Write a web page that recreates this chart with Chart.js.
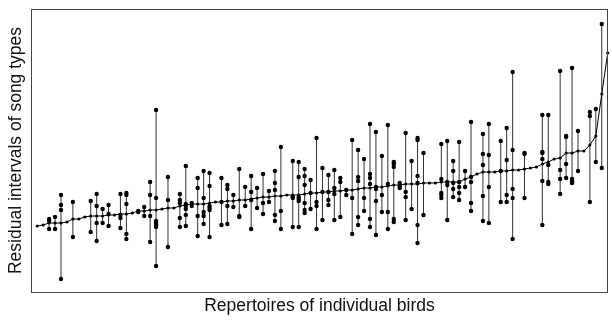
<!DOCTYPE html>
<html>
<head>
<meta charset="utf-8">
<title>Residual intervals of song types</title>
<script src="https://cdn.jsdelivr.net/npm/chart.js@4/dist/chart.umd.min.js"></script>
<style>
    html, body { margin: 0; padding: 0; background: #fff; }
    #wrap { width: 612px; height: 320px; }
</style>
</head>
<body>
<div id="wrap"><canvas id="songChart" width="612" height="320"></canvas></div>
<script>
// Mean residual interval of each bird (birds sorted by mean)
const birdMeans = [
    0.24, 0.25, 0.27, 0.27, 0.27, 0.28, 0.31, 0.31, 0.33, 0.34,
    0.34, 0.34, 0.35, 0.35, 0.36, 0.36, 0.37, 0.39, 0.39, 0.40,
    0.40, 0.41, 0.42, 0.42, 0.44, 0.45, 0.46, 0.46, 0.46, 0.47,
    0.48, 0.48, 0.49, 0.49, 0.50, 0.50, 0.51, 0.52, 0.53, 0.53,
    0.54, 0.54, 0.55, 0.55, 0.55, 0.56, 0.57, 0.57, 0.58, 0.58,
    0.59, 0.59, 0.60, 0.60, 0.61, 0.62, 0.62, 0.63, 0.63, 0.64,
    0.65, 0.65, 0.66, 0.66, 0.66, 0.67, 0.67, 0.67, 0.68, 0.68,
    0.68, 0.68, 0.71, 0.73, 0.76, 0.78, 0.78, 0.78, 0.79, 0.79,
    0.80, 0.80, 0.81, 0.82, 0.83, 0.86, 0.88, 0.91, 0.92, 0.97,
    0.97, 0.99, 0.99, 1.05, 1.14, 1.56, 1.97
];

// Residual interval of every song type, one list per bird
const songValues = [
    [], [], [0.31, 0.29, 0.21], [0.33, 0.21], [0.55, 0.45, 0.40, -0.29],
    [], [0.48, 0.13], [], [], [0.49, 0.18],
    [0.56, 0.44, 0.27, 0.09], [0.41, 0.27], [0.45, 0.36, 0.24], [], [0.56, 0.35, 0.32, 0.22],
    [0.57, 0.55, 0.46, 0.16, 0.11], [], [0.39, 0.38], [0.43, 0.34], [0.68, 0.55, 0.34, 0.08],
    [1.40, 0.52, 0.29, 0.27, 0.25, 0.23, -0.16], [], [0.73, 0.50, 0.03], [], [0.56, 0.50, 0.47, 0.32, 0.23],
    [0.84, 0.46, 0.44, 0.41, 0.35, 0.24], [0.47, 0.44], [0.72, 0.62, 0.34, 0.14], [0.79, 0.52, 0.38, 0.34, 0.26], [0.77, 0.64, 0.44, 0.42, 0.40, 0.13],
    [], [0.72, 0.48, 0.25], [0.65, 0.61, 0.44, 0.26], [0.55, 0.43], [0.81, 0.34, 0.33],
    [0.63, 0.44], [0.74, 0.58, 0.50, 0.21], [0.62, 0.42], [0.76, 0.47, 0.36], [0.59, 0.48],
    [0.79, 0.67, 0.60, 0.35, 0.29], [1.03, 0.39, 0.21], [], [0.89, 0.53, 0.52, 0.23], [0.88, 0.73, 0.53, 0.51, 0.49, 0.23],
    [0.81, 0.74, 0.65, 0.47, 0.40, 0.37], [0.70, 0.57, 0.41], [1.12, 0.48, 0.44, 0.21], [0.82, 0.58, 0.30], [0.75, 0.58, 0.50, 0.45],
    [0.80, 0.62, 0.56, 0.30], [0.72, 0.68, 0.33], [0.60, 0.55], [1.10, 0.52, 0.16], [1.00, 0.73, 0.69, 0.33, 0.25],
    [0.91, 0.52, 0.39], [1.26, 0.76, 0.72, 0.66, 0.31, 0.23], [1.18, 0.63, 0.61, 0.49, 0.15], [0.94, 0.55, 0.38], [1.25, 0.66, 0.38, 0.21],
    [0.88, 0.86, 0.83, 0.31, 0.28], [0.67, 0.64, 0.62], [1.17, 0.58, 0.53, 0.30], [0.89, 0.41], [1.12, 1.10, 0.74, 0.67, 0.25, 0.07],
    [0.97, 0.35], [], [], [1.06, 0.71, 0.57, 0.55, 0.52], [1.09, 0.68, 0.65, 0.30],
    [0.89, 0.79, 0.67, 0.61, 0.53], [1.08, 0.68, 0.63, 0.57, 0.50], [0.79, 0.63], [1.28, 0.73, 0.68, 0.47, 0.39], [],
    [1.16, 0.96, 0.85, 0.54, 0.29], [1.26, 0.95, 0.63, 0.27], [], [1.09, 0.79, 0.48], [1.22, 0.90, 0.55, 0.48],
    [1.78, 1.00, 0.61, 0.52, 0.11], [], [0.97, 0.96, 0.52], [], [],
    [1.35, 0.98, 0.97, 0.91, 0.69, 0.25], [1.35, 0.85, 0.68, 0.66], [], [1.79, 0.80, 0.71, 0.56], [1.14, 1.13, 0.86, 0.72],
    [1.82, 0.71, 0.69, 0.68, 0.67], [1.19, 0.79], [], [1.38, 1.34, 0.48], [1.41, 0.88],
    [2.26, 0.82], []
];

// Bird number along the x axis
const birdIds = birdMeans.map((_, i) => i + 1);

const xTitle = 'Repertoires of individual birds';
const yTitle = 'Residual intervals of song types';

document.addEventListener('DOMContentLoaded', function() {
    initSongChart();
});

// Build the vertical range line for each bird, broken by nulls
function buildRanges() {
    const pts = [];
    birdIds.forEach((id, i) => {
        const vals = songValues[i].concat([birdMeans[i]]);
        if (songValues[i].length === 0) return;
        pts.push({ x: id, y: Math.min(...vals) });
        pts.push({ x: id, y: Math.max(...vals) });
        pts.push({ x: id, y: null });
    });
    return pts;
}

function buildSongPoints() {
    const pts = [];
    birdIds.forEach((id, i) => {
        songValues[i].forEach(v => pts.push({ x: id, y: v }));
    });
    return pts;
}

// Box around the plot area
const framePlugin = {
    id: 'frame',
    afterDraw(chart) {
        const { ctx, chartArea: a } = chart;
        ctx.save();
        ctx.strokeStyle = '#444';
        ctx.lineWidth = 1;
        ctx.strokeRect(a.left + 0.5, a.top + 0.5, a.right - a.left - 1, a.bottom - a.top);
        ctx.restore();
    }
};

function initSongChart() {
    const ctx = document.getElementById('songChart');
    if (!ctx) return;

    const font = { family: '"Liberation Sans", Arial, sans-serif', size: 17.5 };

    new Chart(ctx, {
        type: 'line',
        data: {
            datasets: [
                {
                    type: 'scatter',
                    data: buildSongPoints(),
                    backgroundColor: '#000',
                    borderColor: '#000',
                    pointRadius: 2.2,
                    borderWidth: 0,
                    order: 0,
                    clip: 4
                },
                {
                    data: birdIds.map((id, i) => ({ x: id, y: birdMeans[i] })),
                    borderColor: '#000',
                    backgroundColor: '#000',
                    borderWidth: 1,
                    pointRadius: 1.6,
                    pointBorderWidth: 0,
                    tension: 0,
                    order: 1,
                    clip: 4
                },
                {
                    data: buildRanges(),
                    borderColor: '#333',
                    borderWidth: 1,
                    pointRadius: 0,
                    spanGaps: false,
                    order: 2
                }
            ]
        },
        options: {
            responsive: false,
            animation: false,
            layout: { padding: { top: 9, right: 1, left: 0, bottom: 0 } },
            plugins: {
                legend: { display: false },
                tooltip: { enabled: false }
            },
            scales: {
                x: {
                    type: 'linear',
                    min: -0.05,
                    max: 97.05,
                    grid: { display: false },
                    border: { display: false },
                    ticks: { display: false },
                    title: {
                        display: true,
                        text: xTitle,
                        color: '#111',
                        font: font,
                        padding: { top: 0, bottom: 3 }
                    },
                    afterFit(scale) { scale.height = 28; }
                },
                y: {
                    min: -0.42,
                    max: 2.41,
                    grid: { display: false },
                    border: { display: false },
                    ticks: { display: false },
                    title: {
                        display: true,
                        text: yTitle,
                        color: '#111',
                        font: font,
                        padding: { top: 6, bottom: 0 }
                    },
                    afterFit(scale) { scale.width = 31; }
                }
            }
        },
        plugins: [framePlugin]
    });
}
</script>
</body>
</html>
